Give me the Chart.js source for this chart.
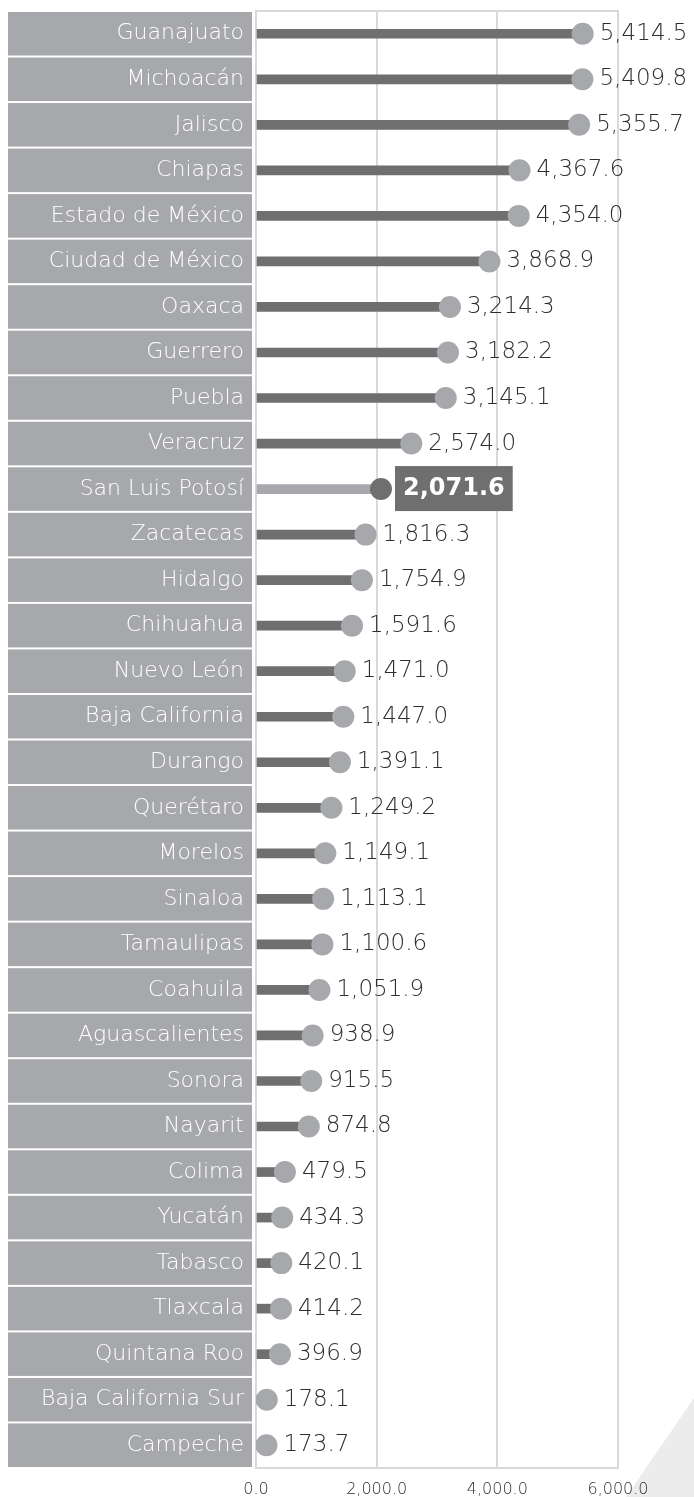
<!DOCTYPE html>
<html>
<head>
<meta charset="utf-8">
<script src="https://cdn.jsdelivr.net/npm/chart.js@4.4.0/dist/chart.umd.min.js"></script>
<style>
  html, body { margin: 0; padding: 0; background: #ffffff; }
  #wrap { width: 694px; height: 1497px; position: relative; }
</style>
</head>
<body>
<div id="wrap"><canvas id="chart" width="694" height="1497"></canvas></div>
<script>
const states = [
    'Guanajuato', 'Michoacán', 'Jalisco', 'Chiapas', 'Estado de México', 'Ciudad de México',
    'Oaxaca', 'Guerrero', 'Puebla', 'Veracruz', 'San Luis Potosí', 'Zacatecas', 'Hidalgo',
    'Chihuahua', 'Nuevo León', 'Baja California', 'Durango', 'Querétaro', 'Morelos', 'Sinaloa',
    'Tamaulipas', 'Coahuila', 'Aguascalientes', 'Sonora', 'Nayarit', 'Colima', 'Yucatán',
    'Tabasco', 'Tlaxcala', 'Quintana Roo', 'Baja California Sur', 'Campeche'
];
const values = [
    5414.5, 5409.8, 5355.7, 4367.6, 4354.0, 3868.9, 3214.3, 3182.2, 3145.1, 2574.0,
    2071.6, 1816.3, 1754.9, 1591.6, 1471.0, 1447.0, 1391.1, 1249.2, 1149.1, 1113.1,
    1100.6, 1051.9, 938.9, 915.5, 874.8, 479.5, 434.3, 420.1, 414.2, 396.9, 178.1, 173.7
];
const highlight = 'San Luis Potosí';
const xTicks = [0, 2000, 4000, 6000];

const DARK = '#6f6f6f';
const LIGHT = '#a7a8ac';
const FONT = '"DejaVu Sans", sans-serif';

const fmt = v => v.toLocaleString('en-US', { minimumFractionDigits: 1, maximumFractionDigits: 1 });

const barColors = states.map(s => s === highlight ? LIGHT : DARK);
const dotColors = states.map(s => s === highlight ? DARK : LIGHT);

// gray boxes behind the state names + corner decoration
const boxesPlugin = {
    id: 'boxes',
    beforeDraw(chart) {
        const ctx = chart.ctx;
        const y = chart.scales.y;
        const area = chart.chartArea;
        const rowH = (area.bottom - area.top) / states.length;
        ctx.save();
        ctx.fillStyle = '#ececec';
        ctx.beginPath();
        ctx.moveTo(694, 1398);
        ctx.lineTo(626, 1497);
        ctx.lineTo(694, 1497);
        ctx.closePath();
        ctx.fill();
        ctx.fillStyle = LIGHT;
        states.forEach((s, i) => {
            const cy = y.getPixelForTick(i);
            ctx.fillRect(8, cy - rowH / 2 + 1, 244, rowH - 2);
        });
        ctx.restore();
    },
    beforeDatasetsDraw(chart) {
        const ctx = chart.ctx;
        const a = chart.chartArea;
        ctx.save();
        ctx.strokeStyle = '#d9d9d9';
        ctx.lineWidth = 2;
        ctx.strokeRect(a.left, a.top, a.right - a.left, a.bottom - a.top);
        ctx.restore();
    }
};

// value labels to the right of each dot
const valueLabels = {
    id: 'valueLabels',
    afterDatasetsDraw(chart) {
        const ctx = chart.ctx;
        const meta = chart.getDatasetMeta(1);
        ctx.save();
        ctx.textBaseline = 'middle';
        ctx.textAlign = 'left';
        meta.data.forEach((pt, i) => {
            const txt = fmt(values[i]);
            if (states[i] === highlight) {
                ctx.font = 'bold 24px ' + FONT;
                const w = ctx.measureText(txt).width;
                ctx.fillStyle = DARK;
                ctx.fillRect(pt.x + 14, pt.y - 23, w + 16, 45);
                ctx.fillStyle = '#ffffff';
                ctx.fillText(txt, pt.x + 22, pt.y);
            } else {
                ctx.font = '200 23px ' + FONT;
                ctx.fillStyle = '#2e2e2e';
                ctx.fillText(txt, pt.x + 17, pt.y);
            }
        });
        ctx.restore();
    }
};

new Chart(document.getElementById('chart').getContext('2d'), {
    type: 'bar',
    data: {
        labels: states,
        datasets: [{
            type: 'bar',
            data: values,
            backgroundColor: barColors,
            barThickness: 9,
            order: 2
        }, {
            type: 'line',
            indexAxis: 'y',
            data: values,
            showLine: false,
            pointRadius: 11,
            pointHoverRadius: 11,
            pointBorderWidth: 0,
            pointBackgroundColor: dotColors,
            order: 1
        }]
    },
    options: {
        indexAxis: 'y',
        responsive: false,
        animation: false,
        layout: { padding: { top: 8, right: 76, left: 0, bottom: 0 } },
        plugins: {
            legend: { display: false },
            tooltip: { enabled: false }
        },
        scales: {
            x: {
                min: 0,
                max: 6000,
                afterBuildTicks: scale => { scale.ticks = xTicks.map(v => ({ value: v })); },
                afterFit: scale => { scale.height = 29; },
                grid: { color: '#d9d9d9', lineWidth: 2, drawTicks: false },
                border: { display: false },
                ticks: {
                    padding: 12,
                    color: '#2e2e2e',
                    font: { family: FONT, size: 16, weight: 200 },
                    callback: v => fmt(v)
                }
            },
            y: {
                afterFit: scale => {
                    scale.width = 256;
                    scale.paddingTop = 0;
                    scale.paddingBottom = 0;
                },
                grid: { display: false, drawTicks: false },
                border: { display: false },
                ticks: {
                    padding: 12,
                    color: '#ffffff',
                    font: { family: FONT, size: 22, weight: 200 }
                }
            }
        }
    },
    plugins: [boxesPlugin, valueLabels]
});
</script>
</body>
</html>
